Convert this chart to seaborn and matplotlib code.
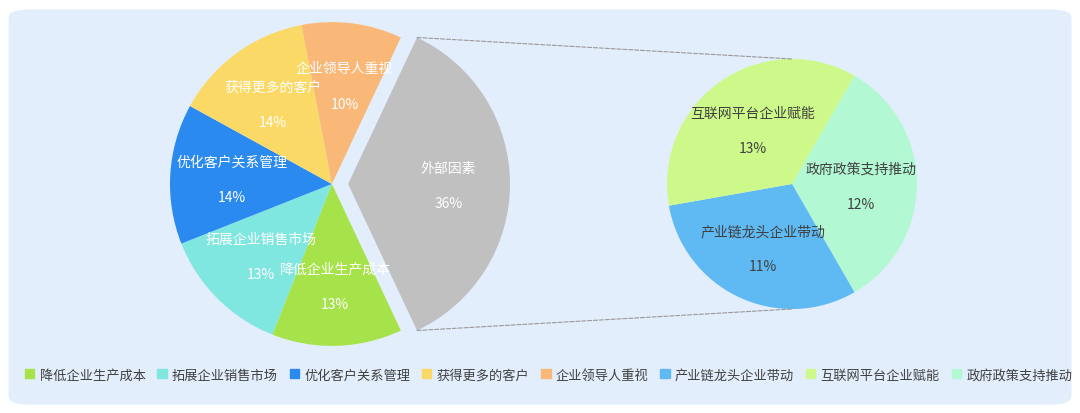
import numpy as np
import matplotlib.pyplot as plt
import seaborn as sns
from matplotlib.patches import FancyBboxPatch, ConnectionPatch

sns.set_style('white')
plt.rcParams['font.family'] = 'Noto Sans CJK SC'

main_labels = ['外部因素', '降低企业生产成本', '拓展企业销售市场', '优化客户关系管理', '获得更多的客户', '企业领导人重视']
main_values = [36, 13, 13, 14, 14, 10]
main_colors = ['#c0c0c0', '#a6e34a', '#80e6e0', '#2b8af0', '#fbd966', '#f9b877']

sub_labels = ['政府政策支持推动', '产业链龙头企业带动', '互联网平台企业赋能']
sub_values = [12, 11, 13]
sub_colors = ['#b2f8d2', '#5fb9f2', '#cdf98a']

legend_labels = ['降低企业生产成本', '拓展企业销售市场', '优化客户关系管理', '获得更多的客户',
                 '企业领导人重视', '产业链龙头企业带动', '互联网平台企业赋能', '政府政策支持推动']
legend_colors = ['#a6e34a', '#80e6e0', '#2b8af0', '#fbd966', '#f9b877', '#5fb9f2', '#cdf98a', '#b2f8d2']

fig = plt.figure(figsize=(10.8, 4.14), dpi=100)
bg = FancyBboxPatch((0.008, 0.02), 0.984, 0.955, boxstyle='round,pad=0,rounding_size=0.02',
                    transform=fig.transFigure, facecolor='#e3eefc', edgecolor='none', zorder=-5)
fig.patches.append(bg)

W, H = 1080, 414
ax1 = fig.add_axes([170 / W, (H - 355) / H, 340 / W, 340 / H])
ax2 = fig.add_axes([667 / W, (H - 310) / H, 250 / W, 250 / H])

explode = [0.1, 0, 0, 0, 0, 0]
w1, _ = ax1.pie(main_values, colors=main_colors, startangle=64.8, counterclock=False,
                explode=explode, wedgeprops=dict(linewidth=0))
for w, lab, v, e in zip(w1, main_labels, main_values, explode):
    a = np.deg2rad((w.theta1 + w.theta2) / 2)
    r = 0.62 + e
    x, y = r * np.cos(a), r * np.sin(a)
    ax1.text(x, y + 0.1, lab, ha='center', va='center', color='white', fontsize=10)
    ax1.text(x, y - 0.12, f'{v}%', ha='center', va='center', color='white', fontsize=10)

w2, _ = ax2.pie(sub_values, colors=sub_colors, startangle=60, counterclock=False,
                wedgeprops=dict(linewidth=0))
for w, lab, v in zip(w2, sub_labels, sub_values):
    a = np.deg2rad((w.theta1 + w.theta2) / 2)
    x, y = 0.55 * np.cos(a), 0.55 * np.sin(a)
    ax2.text(x, y + 0.12, lab, ha='center', va='center', color='#404040', fontsize=10)
    ax2.text(x, y - 0.16, f'{v}%', ha='center', va='center', color='#404040', fontsize=10)

for ax in (ax1, ax2):
    ax.set_xlim(-1, 1)
    ax.set_ylim(-1, 1)
    ax.set_aspect('equal')
    ax.axis('off')
    ax.patch.set_alpha(0)
ax1.set_xlim(-1, 1.1)

g = w1[0]
cx, cy = g.center
for ang, target in [(g.theta2, (0, 1)), (g.theta1, (0, -1))]:
    pa = (cx + np.cos(np.deg2rad(ang)), cy + np.sin(np.deg2rad(ang)))
    con = ConnectionPatch(xyA=pa, coordsA=ax1.transData, xyB=target, coordsB=ax2.transData,
                          color='#999999', linestyle='--', linewidth=0.8)
    fig.add_artist(con)

handles = [plt.Rectangle((0, 0), 1, 1, color=c) for c in legend_colors]
fig.legend(handles, legend_labels, loc='center', bbox_to_anchor=(0.508, 0.092), ncol=8,
           frameon=False, fontsize=9.5, handlelength=0.7, handleheight=0.7,
           handletextpad=0.4, columnspacing=0.9, labelcolor='#404040')

fig.savefig('out.png', dpi=100)
